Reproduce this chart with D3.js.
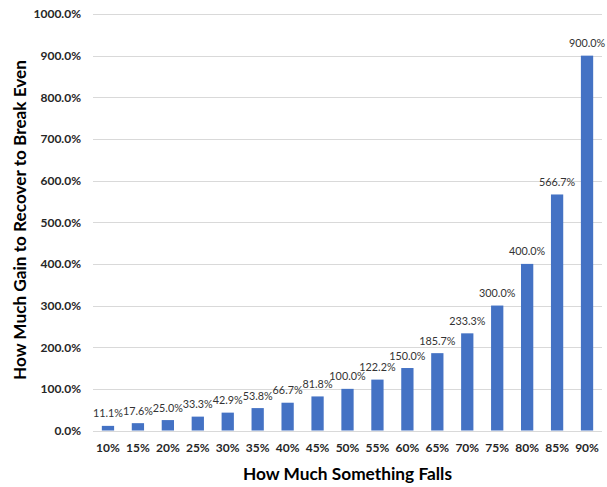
<!DOCTYPE html>
<html><head><meta charset="utf-8">
<script src="https://cdn.jsdelivr.net/npm/d3@7"></script>
<style>body{margin:0;background:#fff}svg{display:block}</style>
</head><body><svg id="c" width="607" height="487"></svg>
<script>
const categories = ["10%","15%","20%","25%","30%","35%","40%","45%","50%","55%","60%","65%","70%","75%","80%","85%","90%"];
const values = [11.1,17.6,25.0,33.3,42.9,53.8,66.7,81.8,100.0,122.2,150.0,185.7,233.3,300.0,400.0,566.7,900.0];
const yTicks = [0,100,200,300,400,500,600,700,800,900,1000];
const xTitle = "How Much Something Falls";
const yTitle = "How Much Gain to Recover to Break Even";

const svg = d3.select("#c");
const mLeft = 93, mRight = 602, mTop = 14, mBottom = 430.5;
const font = "Lato, 'Open Sans', sans-serif";

const x = d3.scaleBand().domain(categories).range([mLeft, mRight]).paddingInner(0.59).paddingOuter(0.295);
const y = d3.scaleLinear().domain([0, 1000]).range([mBottom, mTop]);

// gridlines
svg.append("g").selectAll("line").data(yTicks).join("line")
  .attr("x1", mLeft).attr("x2", mRight)
  .attr("y1", d => Math.round(y(d)) + 0.5).attr("y2", d => Math.round(y(d)) + 0.5)
  .attr("stroke", "#d9d9d9").attr("stroke-width", 1);

// y axis labels
const yAxis = d3.axisLeft(y).tickValues(yTicks).tickFormat(d => d.toFixed(1) + "%").tickSize(0).tickPadding(12);
const gy = svg.append("g").attr("transform", `translate(${mLeft},0)`).call(yAxis);
gy.select(".domain").remove();
gy.selectAll("text").attr("font-family", font).attr("font-weight", "bold").attr("font-size", "12px").attr("fill", "#262626");

// x axis labels
const xAxis = d3.axisBottom(x).tickSize(0).tickPadding(13);
const gx = svg.append("g").attr("transform", `translate(0,${mBottom})`).call(xAxis);
gx.select(".domain").remove();
gx.selectAll("text").attr("font-family", font).attr("font-weight", "bold").attr("font-size", "12px").attr("fill", "#262626");

// bars
svg.append("g").selectAll("rect").data(values).join("rect")
  .attr("x", (d, i) => x(categories[i]))
  .attr("width", x.bandwidth())
  .attr("y", d => y(d))
  .attr("height", d => y(0) - y(d))
  .attr("fill", "#4472C4");

// data labels
svg.append("g").selectAll("text").data(values).join("text")
  .attr("x", (d, i) => x(categories[i]) + x.bandwidth() / 2)
  .attr("y", d => y(d) - 8.5)
  .attr("text-anchor", "middle")
  .attr("font-family", font).attr("font-size", "10.8px").attr("fill", "#333")
  .text(d => d.toFixed(1) + "%");

// titles
svg.append("text").attr("x", 347.5).attr("y", 479.5)
  .attr("text-anchor", "middle").attr("font-family", font).attr("font-weight", "bold")
  .attr("font-size", "17.5px").attr("fill", "#000")
  .attr("textLength", 209).attr("lengthAdjust", "spacingAndGlyphs").text(xTitle);
svg.append("text").attr("transform", `translate(26,220) rotate(-90)`)
  .attr("text-anchor", "middle").attr("font-family", font).attr("font-weight", "bold")
  .attr("font-size", "17.5px").attr("fill", "#000")
  .attr("textLength", 320).attr("lengthAdjust", "spacingAndGlyphs").text(yTitle);
</script></body></html>
